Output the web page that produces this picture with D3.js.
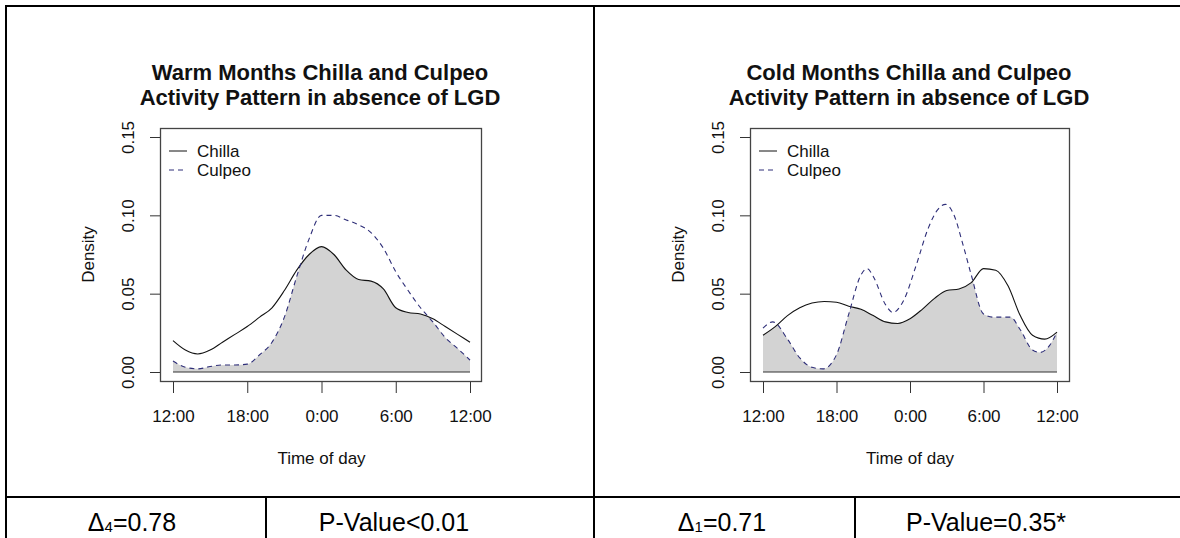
<!DOCTYPE html>
<html>
  <head>
    <meta http-equiv="Content-Type" content="text/html; charset=UTF-8" />
    <title>Chilla and Culpeo activity</title>
    <style>
      body { margin: 0; background: #fff; }
      svg { display: block; font-family: 'Liberation Sans', Arial, sans-serif; }
    </style>
  </head>
  <body>
    <div id="chart"></div>
    <script src="https://cdnjs.cloudflare.com/ajax/libs/d3/7.8.5/d3.min.js"></script>
    <script>
const hourTicks = [0, 6, 12, 18, 24],
      hourLabels = ['12:00', '18:00', '0:00', '6:00', '12:00'],
      densityTicks = [0, 0.05, 0.10, 0.15],
      seriesNames = ['Chilla', 'Culpeo'];

// hours after noon
const warmHours = [0, 1, 2, 3, 4, 5, 6, 7, 8, 9, 10, 11, 12, 13, 14, 15, 16, 17, 18, 19, 20, 21, 22, 23, 24],
      warmChilla = [0.020, 0.014, 0.0115, 0.014, 0.019, 0.024, 0.029, 0.035, 0.041, 0.052, 0.065, 0.075, 0.080,
                    0.075, 0.065, 0.059, 0.058, 0.053, 0.041, 0.038, 0.037, 0.034, 0.029, 0.024, 0.019],
      warmCulpeo = [0.007, 0.003, 0.002, 0.0035, 0.0045, 0.0045, 0.005, 0.011, 0.019, 0.035, 0.061, 0.085, 0.100,
                    0.100, 0.097, 0.094, 0.089, 0.079, 0.064, 0.052, 0.041, 0.032, 0.022, 0.015, 0.0076];

const coldHours = [0, 1, 2, 3, 4, 5, 6, 7, 8, 9, 10, 11, 12, 13, 14, 15, 16, 17, 18, 19, 20, 21, 22, 23, 24],
      coldChilla = [0.0235, 0.029, 0.036, 0.041, 0.044, 0.045, 0.0445, 0.042, 0.040, 0.036, 0.032, 0.031, 0.034,
                    0.040, 0.047, 0.052, 0.053, 0.057, 0.066, 0.065, 0.055, 0.036, 0.0235, 0.021, 0.0255],
      coldCulpeoHours = [0, 0.8, 2, 3, 4, 4.9, 6, 7, 8, 8.5, 9, 10, 10.6, 11.5, 12.5, 13.5, 14.2, 14.9, 15.6, 16.3,
                         17, 18, 18.8, 20.2, 21, 22, 22.6, 23.4, 24],
      coldCulpeo = [0.028, 0.032, 0.021, 0.009, 0.003, 0.002, 0.011, 0.037, 0.062, 0.066, 0.061, 0.043, 0.038,
                    0.046, 0.068, 0.092, 0.103, 0.107, 0.100, 0.082, 0.062, 0.037, 0.035, 0.035, 0.027, 0.014,
                    0.0125, 0.017, 0.0255];

const titles = [['Warm Months Chilla and Culpeo', 'Activity Pattern in absence of LGD'],
                ['Cold Months Chilla and Culpeo', 'Activity Pattern in absence of LGD']],
      deltaSubs = ['4', '1'],
      deltaValues = ['=0.78', '=0.71'],
      pValues = ['P-Value<0.01', 'P-Value=0.35*'];

const W = 1180, H = 538,
      culpeoColor = '#2e2e78',
      fillColor = '#d3d3d3',
      ink = '#111';

const svg = d3.select('#chart').append('svg')
              .attr('width', W)
              .attr('height', H);

const panels = [
  { hx: [173, 470], box: [160, 481], chilla: [warmHours, warmChilla], culpeo: [warmHours, warmCulpeo],
    titleX: 320, deltaX: 132, pX: 394 },
  { hx: [763, 1057], box: [750, 1069], chilla: [coldHours, coldChilla], culpeo: [coldCulpeoHours, coldCulpeo],
    titleX: 909, deltaX: 722, pX: 986 }
];

const toPoints = ([hs, vs]) => hs.map((h, i) => [h, vs[i]]);

panels.forEach((p, k) => {
  const x = d3.scaleLinear().domain([0, 24]).range(p.hx),
        y = d3.scaleLinear().domain([0, 0.15]).range([372, 137]),
        g = svg.append('g');

  const line = d3.line()
                 .x(d => x(d[0]))
                 .y(d => y(d[1]))
                 .curve(d3.curveMonotoneX),
        area = d3.area()
                 .x(d => x(d[0]))
                 .y0(y(0))
                 .y1(d => y(d[1]))
                 .curve(d3.curveMonotoneX);

  const chilla = toPoints(p.chilla),
        culpeo = toPoints(p.culpeo);

  // overlap = area under chilla clipped by area under culpeo
  g.append('clipPath')
    .attr('id', 'clip' + k)
    .append('path')
      .attr('d', area(culpeo));
  g.append('path')
    .attr('d', area(chilla))
    .attr('fill', fillColor)
    .attr('clip-path', `url(#clip${k})`);

  g.append('line')
    .attr('x1', x(0)).attr('x2', x(24))
    .attr('y1', y(0)).attr('y2', y(0))
    .attr('stroke', '#333');

  g.append('path')
    .attr('d', line(chilla))
    .attr('fill', 'none')
    .attr('stroke', ink)
    .attr('stroke-width', 1.1);
  g.append('path')
    .attr('d', line(culpeo))
    .attr('fill', 'none')
    .attr('stroke', culpeoColor)
    .attr('stroke-width', 1.1)
    .attr('stroke-dasharray', '5,4');

  g.append('rect')
    .attr('x', p.box[0] + 0.5)
    .attr('y', 128.5)
    .attr('width', p.box[1] - p.box[0])
    .attr('height', 253)
    .attr('fill', 'none')
    .attr('stroke', '#444')
    .attr('stroke-width', 1.3);

  const xAxis = g.append('g')
    .attr('transform', 'translate(0,382)')
    .call(d3.axisBottom(x).tickValues(hourTicks).tickFormat((d, i) => hourLabels[i]).tickSize(11).tickPadding(17));
  xAxis.select('.domain').remove();
  xAxis.selectAll('line').attr('stroke', '#333');
  xAxis.selectAll('text').attr('fill', ink).style('font-size', '17px');

  const yAxis = g.append('g')
    .attr('transform', `translate(${p.box[0]},0)`)
    .call(d3.axisLeft(y).tickValues(densityTicks).tickFormat(d3.format('.2f')).tickSize(10));
  yAxis.select('.domain').remove();
  yAxis.selectAll('line').attr('stroke', '#333');
  yAxis.selectAll('text')
    .attr('fill', ink)
    .style('font-size', '17px')
    .attr('x', null).attr('dy', null)
    .attr('text-anchor', 'middle')
    .attr('transform', 'translate(-26,0) rotate(-90)');

  g.append('text')
    .attr('transform', `translate(${p.box[0] - 66},${(128 + 381) / 2}) rotate(-90)`)
    .attr('text-anchor', 'middle')
    .attr('fill', ink)
    .style('font-size', '17px')
    .text('Density');

  g.append('text')
    .attr('x', (p.hx[0] + p.hx[1]) / 2)
    .attr('y', 464)
    .attr('text-anchor', 'middle')
    .attr('fill', ink)
    .style('font-size', '17px')
    .text('Time of day');

  titles[k].forEach((t, i) => {
    g.append('text')
      .attr('x', p.titleX)
      .attr('y', 80 + i * 25)
      .attr('text-anchor', 'middle')
      .attr('fill', ink)
      .style('font-size', '22px')
      .style('font-weight', 'bold')
      .text(t);
  });

  const legend = g.append('g')
    .attr('transform', `translate(${p.box[0] + 9},151)`);
  seriesNames.forEach((name, i) => {
    legend.append('line')
      .attr('x1', 0).attr('x2', 18)
      .attr('y1', i * 19).attr('y2', i * 19)
      .attr('stroke', i ? culpeoColor : ink)
      .attr('stroke-dasharray', i ? '5,4' : null);
    legend.append('text')
      .attr('x', 28)
      .attr('y', i * 19)
      .attr('dy', '0.35em')
      .attr('fill', ink)
      .style('font-size', '17px')
      .text(name);
  });

  const dt = svg.append('text')
    .attr('x', p.deltaX)
    .attr('y', 531)
    .attr('text-anchor', 'middle')
    .attr('fill', '#000')
    .style('font-size', '25px');
  dt.append('tspan').text('Δ');
  dt.append('tspan').style('font-size', '15px').attr('dy', 1).text(deltaSubs[k]);
  dt.append('tspan').attr('dy', -1).text(deltaValues[k]);

  svg.append('text')
    .attr('x', p.pX)
    .attr('y', 531)
    .attr('text-anchor', 'middle')
    .attr('fill', '#000')
    .style('font-size', '25px')
    .text(pValues[k]);
});

// table rules
const rules = [
  [6, 6, 6, H], [5, 6, W, 6], [594, 6, 594, H], [5, 497, W, 497], [266, 497, 266, H], [855, 497, 855, H]
];
svg.append('g')
  .selectAll('line')
  .data(rules)
  .enter()
    .append('line')
    .attr('x1', d => d[0]).attr('y1', d => d[1])
    .attr('x2', d => d[2]).attr('y2', d => d[3])
    .attr('stroke', '#000')
    .attr('stroke-width', 2);
    </script>
  </body>
</html>
